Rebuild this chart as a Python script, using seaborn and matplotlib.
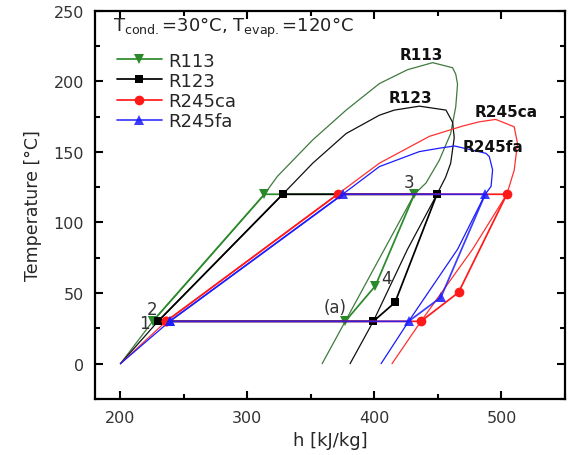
import numpy as np
import pandas as pd
import matplotlib
matplotlib.use("Agg")
import matplotlib.pyplot as plt
import seaborn as sns
from matplotlib.ticker import MultipleLocator

# ---------------- data ----------------
fluids = ["R113", "R123", "R245ca", "R245fa"]

# saturated liquid lines (h [kJ/kg], T [C])
liq_h = {
    "R113":   [200, 225.4, 255, 313.4, 323.5, 351.4, 377.7, 403.9, 426.0, 445.8],
    "R123":   [200, 229.6, 327.8, 351.4, 377.7, 403.9, 415.6, 435.4],
    "R245ca": [200, 236.0, 371.0, 403.9, 443.2, 469.4, 482.4, 495.5],
    "R245fa": [200, 238.8, 375.0, 403.9, 435.3, 451.0, 463.0],
}
liq_T = {
    "R113":   [0, 30, 60, 120, 132.6, 158.5, 179.6, 198.4, 208.2, 213.2],
    "R123":   [0, 30, 120, 142, 163, 176, 179.6, 182.4],
    "R245ca": [0, 30, 120, 142, 161, 168.3, 171.3, 173.0],
    "R245fa": [0, 30, 120, 139.6, 150.2, 152.6, 154.2],
}
# saturated vapour lines
vap_h = {
    "R113":   [358.8, 377.0, 407.8, 431.4, 440.6, 451.0, 460.0, 464.0, 465.4, 464.0, 461.5, 445.8],
    "R123":   [380.8, 399.1, 426.0, 449.2, 456.0, 460.0, 462.8, 461.5, 456.3, 435.4],
    "R245ca": [413.8, 436.6, 477.2, 504.2, 510.0, 512.6, 510.0, 495.5],
    "R245fa": [405.2, 426.9, 465.4, 487.2, 491.8, 493.0, 490.4, 487.7, 463.0],
}
vap_T = {
    "R113":   [0, 30, 81, 120, 128, 144, 163, 182, 198, 205, 209.6, 213.2],
    "R123":   [0, 30, 81, 120, 132, 142, 160, 171, 179.6, 182.4],
    "R245ca": [0, 30, 81, 120, 137, 156, 167.8, 173.0],
    "R245fa": [0, 30, 81, 120, 125.6, 137.3, 146.7, 149, 154.2],
}
# ORC cycle states: 2, sat. liquid at evap, 3, 4, (a), back to 1/2
cyc_h = {
    "R113":   [225.4, 313.4, 431.4, 400.7, 377.0, 225.4],
    "R123":   [229.6, 327.8, 449.2, 416.2, 399.1, 229.6],
    "R245ca": [236.0, 371.0, 504.2, 466.2, 436.6, 236.0],
    "R245fa": [238.8, 375.0, 487.2, 452.3, 426.9, 238.8],
}
cyc_T = {
    "R113":   [30, 120, 120, 55.1, 30, 30],
    "R123":   [30, 120, 120, 43.4, 30, 30],
    "R245ca": [30, 120, 120, 50.5, 30, 30],
    "R245fa": [30, 120, 120, 47.0, 30, 30],
}

colors = {"R113": "#2a8a2a", "R123": "#000000", "R245ca": "#ff1a1a", "R245fa": "#1a1aff"}
dome_colors = {"R113": "#3f7a3f", "R123": "#111111", "R245ca": "#ff3030", "R245fa": "#1a1aff"}
markers = {"R113": "v", "R123": "s", "R245ca": "o", "R245fa": "^"}
msizes = {"R113": 7.5, "R123": 6.3, "R245ca": 7.0, "R245fa": 7.5}

# ---------------- plot ----------------
sns.set_theme(style="ticks")
plt.rcParams["font.family"] = ["DejaVu Sans"]
plt.rcParams["mathtext.fontset"] = "dejavusans"

fig = plt.figure(figsize=(5.68, 4.56), dpi=100)
ax = fig.add_axes([95 / 568, 1 - 400 / 456, 470 / 568, 388.3 / 456])

for f in fluids:
    dome = pd.DataFrame({"h": liq_h[f] + vap_h[f][::-1], "T": liq_T[f] + vap_T[f][::-1]})
    sns.lineplot(data=dome, x="h", y="T", sort=False, estimator=None,
                 color=dome_colors[f], lw=0.9, ax=ax, legend=False)

for f in fluids:
    cyc = pd.DataFrame({"h": cyc_h[f], "T": cyc_T[f]})
    sns.lineplot(data=cyc, x="h", y="T", sort=False, estimator=None,
                 color=colors[f], lw=1.25, marker=markers[f], markersize=msizes[f],
                 markeredgewidth=0, alpha=0.85 if f == "R245fa" else 1.0,
                 label=f, ax=ax)

ax.set_xlim(180, 550)
ax.set_ylim(-25, 250)
ax.xaxis.set_major_locator(MultipleLocator(100))
ax.xaxis.set_minor_locator(MultipleLocator(50))
ax.yaxis.set_major_locator(MultipleLocator(50))
ax.yaxis.set_minor_locator(MultipleLocator(25))
ax.tick_params(which="both", direction="in", top=True, right=True, width=1.5,
               labelsize=11.5, labelcolor="#333333", color="black", pad=8)
ax.tick_params(which="major", length=6)
ax.tick_params(which="minor", length=3.5)
for s in ax.spines.values():
    s.set_linewidth(1.6)
    s.set_color("black")

ax.set_xlabel("h [kJ/kg]", fontsize=13, labelpad=4)
ax.set_ylabel("Temperature [°C]", fontsize=12.5, labelpad=8)

# dome labels
for name, (x, y) in {"R113": (436.6, 218.8), "R123": (428.5, 188.3),
                     "R245ca": (504, 178.6), "R245fa": (493.3, 153.5)}.items():
    ax.text(x, y, name, fontsize=11, fontweight="bold", ha="center", va="center", color="#111111")

# state labels
lab_kw = dict(fontsize=12, ha="center", va="center", color="#333333")
ax.text(426.9, 128.5, "3", **lab_kw)
ax.text(409.5, 60.5, "4", **lab_kw)
ax.text(369, 40.5, "(a)", **lab_kw)
ax.text(219, 28.5, "1", **lab_kw)
ax.text(224.6, 39, "2", **lab_kw)

ax.text(113 / 568, 1 - 28 / 456,
        r"T$_{\mathregular{cond.}}$=30°C, T$_{\mathregular{evap.}}$=120°C",
        transform=fig.transFigure, fontsize=13, ha="left", va="center", color="#222222")

ax.legend(loc="upper left", bbox_to_anchor=(113 / 568, 1 - 49 / 456),
          bbox_transform=fig.transFigure, frameon=False, fontsize=13,
          handlelength=2.5, handletextpad=0.35, labelspacing=0.12,
          borderaxespad=0.0, borderpad=0.2)

fig.savefig("out.png", dpi=100)
